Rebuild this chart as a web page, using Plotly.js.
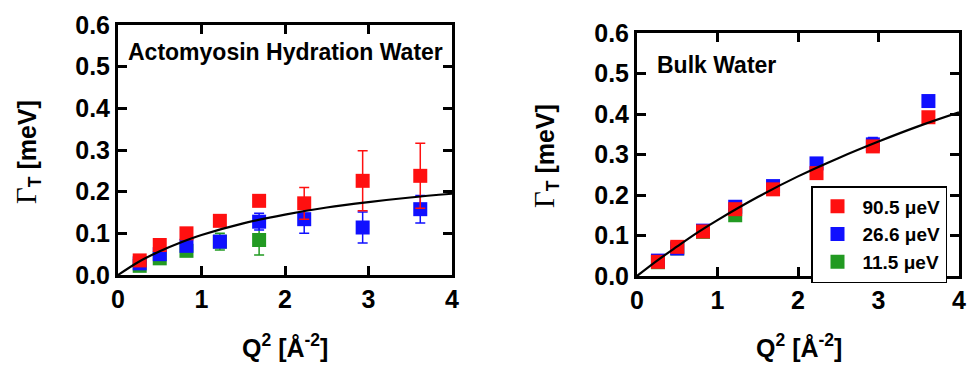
<!DOCTYPE html>
<html>
<head>
<meta charset="utf-8">
<script src="https://cdn.plot.ly/plotly-3.0.1.min.js"></script>
<style>html,body{margin:0;padding:0;background:#fff;}#chart{width:968px;height:365px;}</style>
</head>
<body>
<div id="chart"></div>
<script>
// ---- data ----
var q2 = [0.26, 0.50, 0.82, 1.22, 1.69, 2.23, 2.93, 3.62];
var q2Green = [0.26, 0.50, 0.82, 1.22, 1.69];
var q2GreenBulk = [0.26, 0.50, 0.82, 1.22];

// Actomyosin hydration water
var hydRed = [0.035, 0.072, 0.100, 0.130, 0.178, 0.172, 0.226, 0.238];
var hydRedErr = [0.005, 0.006, 0.008, 0.010, 0.012, 0.038, 0.072, 0.078];
var hydBlue = [0.028, 0.050, 0.070, 0.080, 0.128, 0.134, 0.114, 0.158];
var hydBlueErr = [0.005, 0.006, 0.008, 0.012, 0.020, 0.034, 0.037, 0.033];
var hydGreen = [0.022, 0.040, 0.058, 0.080, 0.084];
var hydGreenErr = [0.005, 0.005, 0.008, 0.020, 0.036];

// Bulk water
var bulkRed = [0.035, 0.072, 0.110, 0.165, 0.214, 0.254, 0.320, 0.392];
var bulkRedErr = [0.004, 0.005, 0.006, 0.008, 0.008, 0.010, 0.012, 0.010];
var bulkBlue = [0.038, 0.068, 0.112, 0.171, 0.222, 0.278, 0.325, 0.432];
var bulkBlueErr = [0.004, 0.005, 0.006, 0.008, 0.008, 0.010, 0.017, 0.010];
var bulkGreen = [0.034, 0.068, 0.109, 0.150];
var bulkGreenErr = [0.004, 0.005, 0.006, 0.008];

// fit curves
var fitX = [0, 0.25, 0.5, 0.75, 1, 1.5, 2, 2.5, 3, 3.5, 4];
var hydFit = [0, 0.032, 0.057, 0.078, 0.096, 0.124, 0.145, 0.162, 0.175, 0.186, 0.195];
var bulkFit = [0, 0.038, 0.073, 0.107, 0.138, 0.195, 0.246, 0.291, 0.332, 0.370, 0.404];

var seriesNames = ['90.5 \u03bceV', '26.6 \u03bceV', '11.5 \u03bceV'];
var xTickVals = [0, 1, 2, 3, 4];
var xTickText = ['0', '1', '2', '3', '4'];
var yTickVals = [0, 0.1, 0.2, 0.3, 0.4, 0.5, 0.6];

// ---- styles ----
var RED = '#ff1010', BLUE = '#1010ff', GREEN = '#229a22';
var FONT = 'Liberation Sans, Arial, sans-serif';
var W = 968, H = 365;
function px(x) { return x / W; }
function py(y) { return 1 - y / H; }

function pts(x, y, err, color, name, xa, ya, showleg) {
  return {
    type: 'scatter', mode: 'markers', x: x, y: y, name: name,
    xaxis: xa, yaxis: ya, showlegend: showleg, cliponaxis: false,
    marker: {symbol: 'square', size: 14, color: color, line: {width: 0}},
    error_y: {type: 'data', array: err, visible: true, color: color, thickness: 1.5, width: 5}
  };
}
function fit(y, xa, ya) {
  return {type: 'scatter', mode: 'lines', x: fitX, y: y, xaxis: xa, yaxis: ya,
    showlegend: false, line: {color: '#000', width: 2.2, shape: 'spline'}, hoverinfo: 'skip'};
}

var traces = [
  pts(q2Green, hydGreen, hydGreenErr, GREEN, seriesNames[2], 'x', 'y', false),
  pts(q2, hydBlue, hydBlueErr, BLUE, seriesNames[1], 'x', 'y', false),
  pts(q2, hydRed, hydRedErr, RED, seriesNames[0], 'x', 'y', false),
  fit(hydFit, 'x', 'y'),
  pts(q2GreenBulk, bulkGreen, bulkGreenErr, GREEN, seriesNames[2], 'x2', 'y2', true),
  pts(q2, bulkBlue, bulkBlueErr, BLUE, seriesNames[1], 'x2', 'y2', true),
  pts(q2, bulkRed, bulkRedErr, RED, seriesNames[0], 'x2', 'y2', true),
  fit(bulkFit, 'x2', 'y2')
];

var tickFont = {family: FONT, size: 25, color: '#000', weight: 'bold'};
function xaxis(dom, anchor) {
  return {domain: dom, anchor: anchor, range: [0, 4], tickmode: 'array', tickvals: xTickVals, ticktext: xTickText,
    showline: true, linecolor: '#000', linewidth: 3, mirror: 'ticks', ticks: 'inside', ticklen: 9, tickwidth: 3,
    tickcolor: '#000', showgrid: false, zeroline: false, tickfont: tickFont, fixedrange: true};
}
function yaxis(dom, anchor) {
  return {domain: dom, anchor: anchor, range: [0, 0.6], tickmode: 'array', tickvals: yTickVals, tickformat: '.1f',
    showline: true, linecolor: '#000', linewidth: 3, mirror: 'ticks', ticks: 'inside', ticklen: 9, tickwidth: 3,
    tickcolor: '#000', showgrid: false, zeroline: false, tickfont: tickFont, fixedrange: true};
}

var titleFont = {family: FONT, size: 23, color: '#000', weight: 'bold'};
var axTitleFont = {family: FONT, size: 25, color: '#000', weight: 'bold'};
var yTitle = '<span style="font-family:Liberation Serif,Times New Roman,serif;font-weight:normal;font-size:29px">\u0393</span><sub>T</sub> [meV]';
var xTitle = 'Q<sup>2</sup> [\u00c5<sup>-2</sup>]';

var layout = {
  width: W, height: H, margin: {l: 0, r: 0, t: 0, b: 0},
  paper_bgcolor: '#fff', plot_bgcolor: '#fff',
  xaxis: xaxis([px(118), px(452)], 'y'),
  yaxis: yaxis([py(275), py(25)], 'x'),
  xaxis2: xaxis([px(637), px(959)], 'y2'),
  yaxis2: yaxis([py(276), py(33)], 'x2'),
  showlegend: true,
  legend: {x: px(947), y: py(186), xanchor: 'right', yanchor: 'top', traceorder: 'reversed',
    bgcolor: '#fff', bordercolor: '#000', borderwidth: 1.5, itemwidth: 40,
    font: {family: FONT, size: 19, color: '#000', weight: 'bold'}},
  annotations: [
    {xref: 'paper', yref: 'paper', x: px(126), y: py(52), xanchor: 'left', yanchor: 'middle', showarrow: false,
      text: 'Actomyosin Hydration Water', font: titleFont},
    {xref: 'paper', yref: 'paper', x: px(655), y: py(65), xanchor: 'left', yanchor: 'middle', showarrow: false,
      text: 'Bulk Water', font: titleFont},
    {xref: 'paper', yref: 'paper', x: px(27), y: py(152), xanchor: 'center', yanchor: 'middle', showarrow: false,
      textangle: -90, text: yTitle, font: axTitleFont},
    {xref: 'paper', yref: 'paper', x: px(545), y: py(156), xanchor: 'center', yanchor: 'middle', showarrow: false,
      textangle: -90, text: yTitle, font: axTitleFont},
    {xref: 'paper', yref: 'paper', x: px(285), y: py(346), xanchor: 'center', yanchor: 'middle', showarrow: false,
      text: xTitle, font: axTitleFont},
    {xref: 'paper', yref: 'paper', x: px(799), y: py(346), xanchor: 'center', yanchor: 'middle', showarrow: false,
      text: xTitle, font: axTitleFont}
  ]
};

Plotly.newPlot('chart', traces, layout, {displayModeBar: false, staticPlot: true});
</script>
</body>
</html>
